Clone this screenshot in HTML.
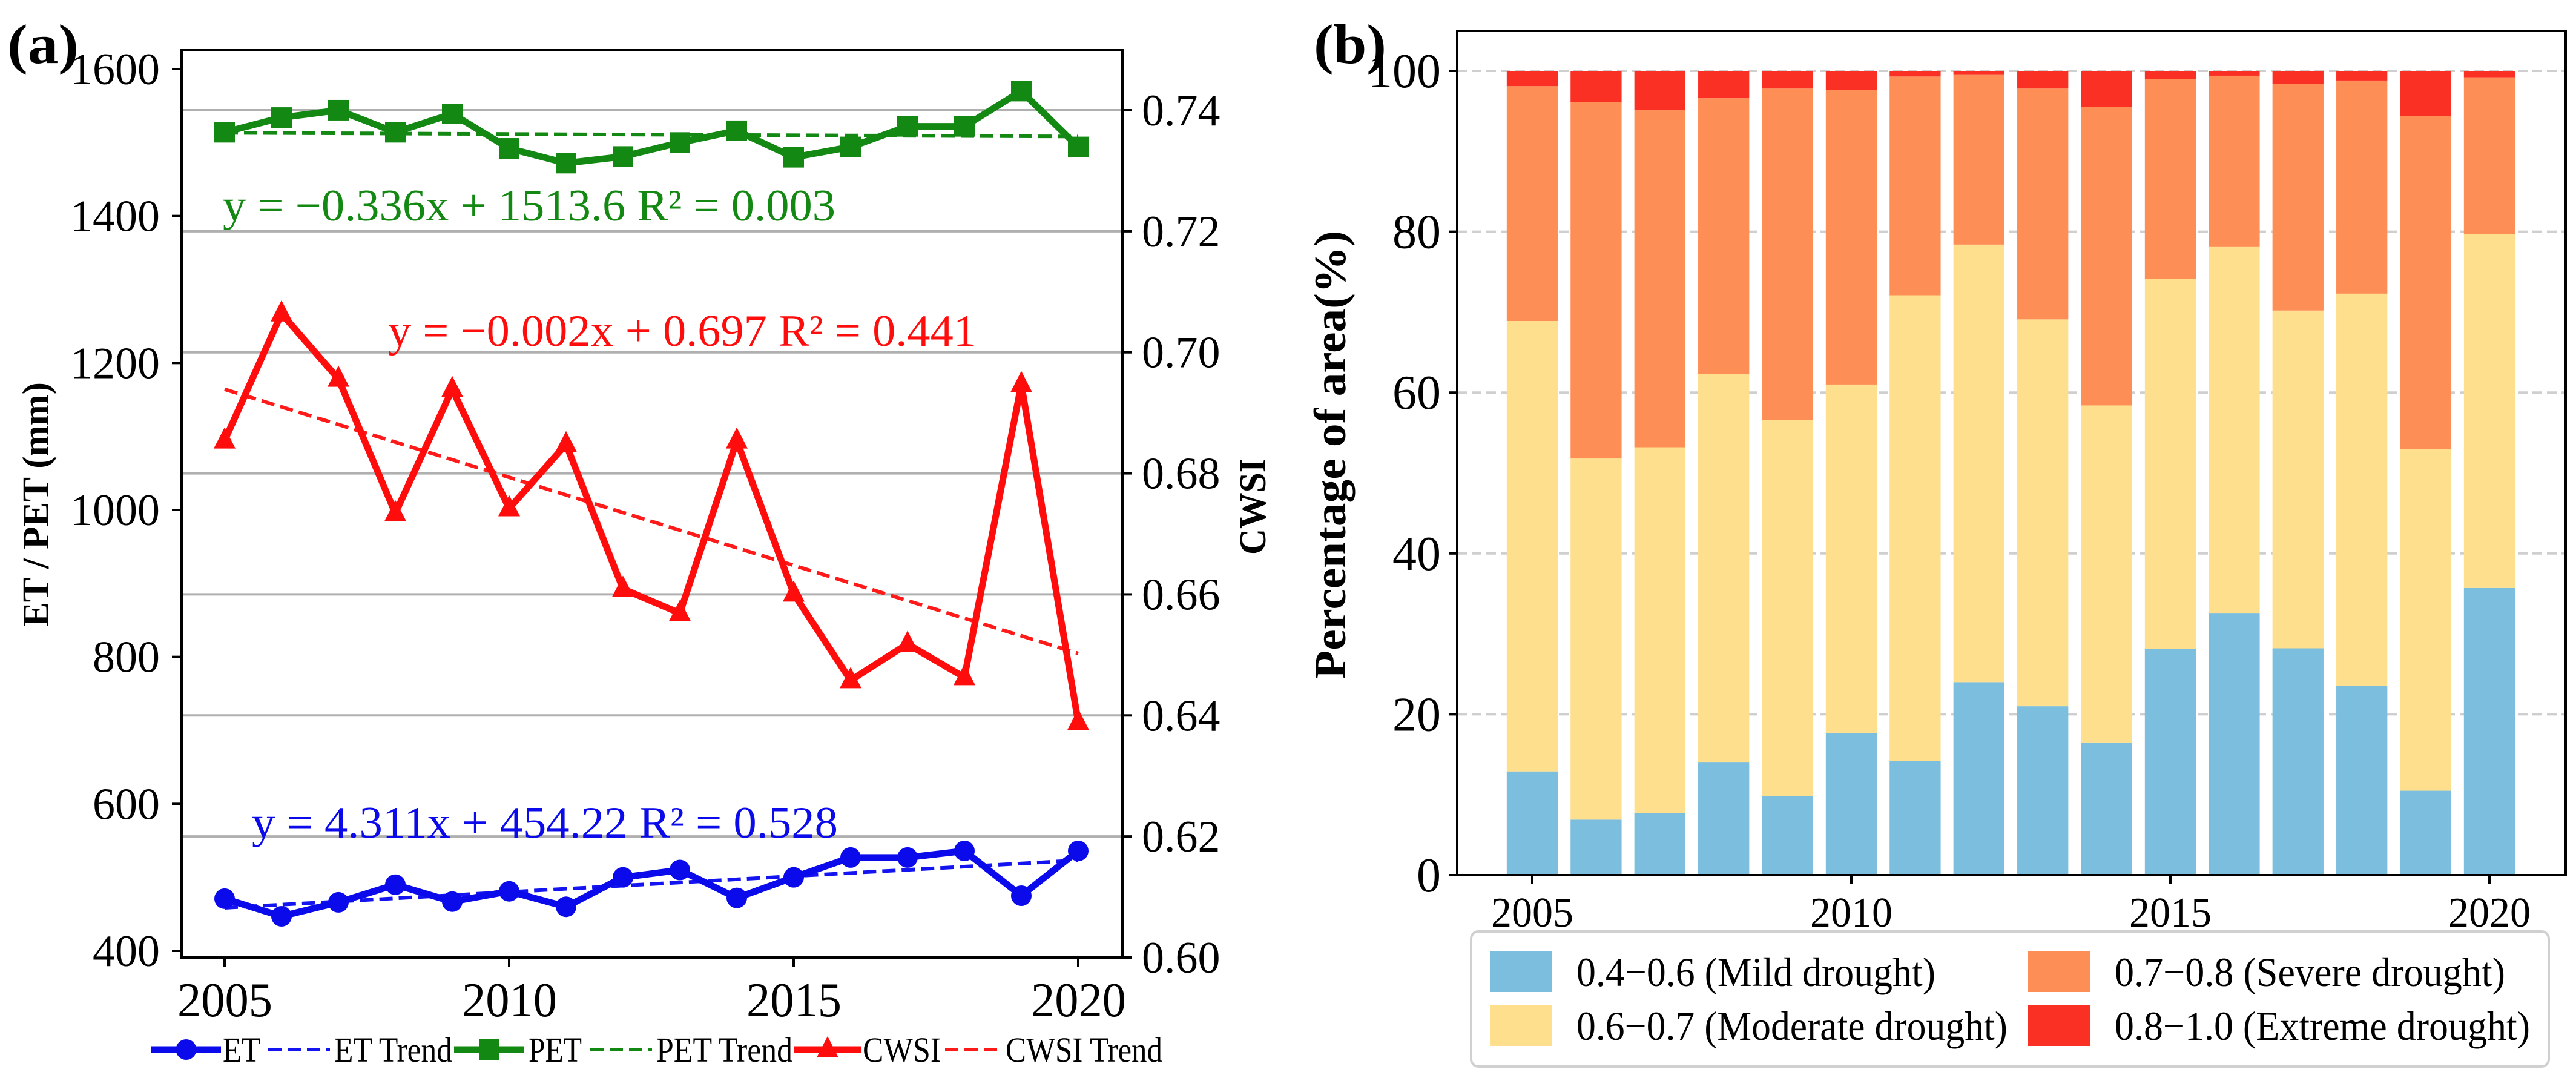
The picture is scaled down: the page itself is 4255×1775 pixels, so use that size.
<!DOCTYPE html>
<html><head><meta charset="utf-8">
<style>
html,body{margin:0;padding:0;background:#fff;}
svg{display:block;font-family:"Liberation Serif",serif;}
</style></head>
<body>
<svg id="fig" width="4255" height="1775" viewBox="0 0 4255 1775" xmlns="http://www.w3.org/2000/svg">
<rect width="4255" height="1775" fill="#fff"/>
<g id="pa"></g>
<g id="pb"></g>
</svg>
<script>
// ---------- Panel (a) data ----------
const years = [2005,2006,2007,2008,2009,2010,2011,2012,2013,2014,2015,2016,2017,2018,2019,2020];
const etValues = [471,447,466,490,467,481,460,500,510,472,500,527,527,536,475,536];
const petValues = [1514,1534,1544,1514,1539,1492,1472,1481,1500,1516,1480,1494,1522,1522,1570,1494];
const cwsiValues = [0.6854,0.7064,0.6956,0.6734,0.6939,0.6742,0.6848,0.6609,0.6569,0.6854,0.6601,0.6458,0.6518,0.6463,0.6947,0.6389];
const etTrend = [4.311,454.22];
const petTrend = [-0.336,1513.6];
const cwsiTrend = [-0.00291,0.6968];
const leftTicks = [400,600,800,1000,1200,1400,1600];
const rightTicks = [0.60,0.62,0.64,0.66,0.68,0.70,0.72,0.74];
const xTicksA = [2005,2010,2015,2020];
// ---------- Panel (b) data ----------
const mildPct = [12.9,6.9,7.7,14.0,9.8,17.7,14.2,24.0,21.0,16.5,28.1,32.6,28.2,23.5,10.5,35.7];
const moderatePct = [56.0,44.9,45.5,48.3,46.8,43.3,57.9,54.4,48.1,41.9,46.0,45.5,42.0,48.8,42.5,44.0];
const severePct = [29.2,44.3,41.9,34.3,41.2,36.6,27.2,21.1,28.7,37.1,24.9,21.3,28.2,26.5,41.4,19.5];
const extremePct = [1.9,3.9,4.9,3.4,2.2,2.4,0.7,0.5,2.2,4.5,1.0,0.6,1.6,1.2,5.6,0.8];
const pctTicks = [0,20,40,60,80,100];
const xTicksB = [2005,2010,2015,2020];

const NS="http://www.w3.org/2000/svg";
function mk(parent,tag,attrs,text){const e=document.createElementNS(NS,tag);for(const k in attrs)e.setAttribute(k,attrs[k]);if(text!==undefined)e.textContent=text;parent.appendChild(e);return e;}
function fit(attrs,len){attrs.textLength=len;attrs.lengthAdjust='spacingAndGlyphs';return attrs;}

// ---------- Panel A ----------
const pa=document.getElementById('pa');
const A={l:300,r:1854,t:83,b:1581};
const xa=y=>371+(y-2005)*(1781-371)/15;
const yl=v=>1570-(v-400)*(1570-114)/1200;
const yr=v=>1581-(v-0.60)*(1581-182)/0.14;
rightTicks.forEach(v=>{ if(v>0.6){
  const g=mk(pa,'line',{x1:A.l,x2:A.r,y1:yr(v),y2:yr(v),stroke:'#b0b0b0','stroke-width':4});
  
  
}});
function line(vals,fy,color,name){
  const pts=vals.map((v,i)=>xa(years[i])+','+fy(v)).join(' ');
  const p=mk(pa,'polyline',{points:pts,fill:'none',stroke:color,'stroke-width':11,'stroke-linejoin':'miter'});
  
  
}
function trend(coef,fy,color,name){
  const v0=coef[0]*1+coef[1], v1=coef[0]*16+coef[1];
  const p=mk(pa,'line',{x1:xa(2005),y1:fy(v0),x2:xa(2020),y2:fy(v1),stroke:color,'stroke-width':6,'stroke-dasharray':'22,10'});
  
  
}
trend(petTrend,yl,'#138813','pet-trend-line');
trend(etTrend,yl,'#1414f0','et-trend-line');
trend(cwsiTrend,yr,'#ff1a1a','cwsi-trend-line');
line(etValues,yl,'#0a0aeb','et-line');
line(petValues,yl,'#138813','pet-line');
line(cwsiValues,yr,'#ff0d0d','cwsi-line');
etValues.forEach((v,i)=>{const c=mk(pa,'circle',{cx:xa(years[i]),cy:yl(v),r:17,fill:'#0a0aeb'});
  
  });
petValues.forEach((v,i)=>{const c=mk(pa,'rect',{x:xa(years[i])-17,y:yl(v)-17,width:34,height:34,fill:'#138813'});
  
  });
cwsiValues.forEach((v,i)=>{const x=xa(years[i]),y=yr(v);const c=mk(pa,'polygon',{points:`${x},${y-22} ${x-18},${y+13} ${x+18},${y+13}`,fill:'#ff0d0d'});
  
  });
const fa=mk(pa,'rect',{x:A.l,y:A.t,width:A.r-A.l,height:A.b-A.t,fill:'none',stroke:'#000','stroke-width':4});


leftTicks.forEach(v=>{mk(pa,'line',{x1:A.l-16,x2:A.l,y1:yl(v),y2:yl(v),stroke:'#000','stroke-width':4});
  const t=mk(pa,'text',{x:264,y:yl(v)+25,'text-anchor':'end','font-size':74},String(v));
  
  });
rightTicks.forEach(v=>{mk(pa,'line',{x1:A.r,x2:A.r+16,y1:yr(v),y2:yr(v),stroke:'#000','stroke-width':4});
  const t=mk(pa,'text',{x:1886,y:yr(v)+25,'font-size':74},v.toFixed(2));
  
  });
xTicksA.forEach(v=>{mk(pa,'line',{x1:xa(v),x2:xa(v),y1:A.b,y2:A.b+16,stroke:'#000','stroke-width':4});
  const t=mk(pa,'text',fit({x:xa(v)-78,y:1678,'font-size':80},157),String(v));
  
  });
let t;
t=mk(pa,'text',fit({x:833-202,y:80,'font-size':64,'font-weight':'bold',transform:'rotate(-90 833 833) translate(0 0)'},404),'ET / PET (mm)');
t.setAttribute('transform','translate(0 0)');
t.remove();
t=mk(pa,'text',fit({x:-1035,y:80,'font-size':62,'font-weight':'bold',transform:'rotate(-90)'},404),'ET / PET (mm)');

t=mk(pa,'text',fit({x:-916,y:2090,'font-size':62,'font-weight':'bold',transform:'rotate(-90)'},159),'CWSI');

t=mk(pa,'text',fit({x:12,y:104,'font-size':92,'font-weight':'bold'},118),'(a)');

t=mk(pa,'text',fit({x:368,y:364,'font-size':74,fill:'#138813'},1012),'y = −0.336x + 1513.6 R² = 0.003');

t=mk(pa,'text',fit({x:641,y:571,'font-size':74,fill:'#ff0d0d'},972),'y = −0.002x + 0.697 R² = 0.441');

t=mk(pa,'text',fit({x:416,y:1383,'font-size':74,fill:'#0a0aeb'},968),'y = 4.311x + 454.22 R² = 0.528');

// legend a
const leg=mk(pa,'g',{});

const items=[['ET','#0a0aeb','solid','circle',250,365,368,430],
             ['ET Trend','#1414f0','dash',null,443,545,552,747],
             ['PET','#138813','solid','square',750,866,873,961],
             ['PET Trend','#138813','dash',null,975,1077,1084,1309],
             ['CWSI','#ff0d0d','solid','tri',1312,1422,1425,1554],
             ['CWSI Trend','#ff1a1a','dash',null,1561,1657,1661,1920]];
items.forEach(it=>{
  const g=mk(leg,'g',{});
  
  
  const x0=it[4], x1=it[5], y=1733;
  mk(g,'line',{x1:x0,x2:x1,y1:y,y2:y,stroke:it[1],'stroke-width':it[2]=='solid'?11:6,'stroke-dasharray':it[2]=='dash'?'22,10':'none'});
  const cx=(x0+x1)/2;
  if(it[3]=='circle')mk(g,'circle',{cx:cx,cy:y,r:17,fill:it[1]});
  if(it[3]=='square')mk(g,'rect',{x:cx-17,y:y-17,width:34,height:34,fill:it[1]});
  if(it[3]=='tri')mk(g,'polygon',{points:`${cx},${y-22} ${cx-18},${y+13} ${cx+18},${y+13}`,fill:it[1]});
  mk(g,'text',fit({x:it[6],y:1753,'font-size':58},it[7]-it[6]),it[0]);
});

// ---------- Panel B ----------
const pb=document.getElementById('pb');
const B={l:2407,r:4238,t:51,b:1445};
const xb=y=>2531+(y-2005)*(4112-2531)/15;
const yb=v=>1445-v*(1445-117)/100;
pctTicks.forEach(v=>{ if(v>0){
  const g=mk(pb,'line',{x1:B.l,x2:B.r,y1:yb(v),y2:yb(v),stroke:'#cfcfcf','stroke-width':4,'stroke-dasharray':'16,8'});
  
  
}});
const series=[[mildPct,'#7bbedd','bar-mild'],[moderatePct,'#fddf8e','bar-moderate'],[severePct,'#fd8e55','bar-severe'],[extremePct,'#fb3025','bar-extreme']];
const bw=(4112-2531)/15*0.8;
years.forEach((yr_,i)=>{
  let base=0;
  series.forEach(s=>{
    const v=s[0][i];
    const r=mk(pb,'rect',{x:xb(yr_)-bw/2,y:yb(base+v),width:bw,height:yb(base)-yb(base+v),fill:s[1]});
    
    
    base+=v;
  });
});
const fb=mk(pb,'rect',{x:B.l,y:B.t,width:B.r-B.l,height:B.b-B.t,fill:'none',stroke:'#000','stroke-width':4});


pctTicks.forEach(v=>{mk(pb,'line',{x1:B.l-14,x2:B.l,y1:yb(v),y2:yb(v),stroke:'#000','stroke-width':4});
  const t=mk(pb,'text',{x:2380,y:yb(v)+27,'text-anchor':'end','font-size':80},String(v));
  
  });
xTicksB.forEach(v=>{mk(pb,'line',{x1:xb(v),x2:xb(v),y1:B.b,y2:B.b+14,stroke:'#000','stroke-width':4});
  const t=mk(pb,'text',fit({x:xb(v)-68,y:1530,'font-size':70},136),String(v));
  
  });
t=mk(pb,'text',fit({x:-1121,y:2222,'font-size':74,'font-weight':'bold',transform:'rotate(-90)'},740),'Percentage of area(%)');

t=mk(pb,'text',fit({x:2170,y:104,'font-size':92,'font-weight':'bold'},120),'(b)');

const lb=mk(pb,'g',{});

mk(lb,'rect',{x:2430,y:1538,width:1780,height:223,rx:12,fill:'#fff',stroke:'#d0d0d0','stroke-width':4});
const lbItems=[['0.4−0.6 (Mild drought)','#7bbedd',2461,1570,593],['0.6−0.7 (Moderate drought)','#fddf8e',2461,1659,712],['0.7−0.8 (Severe drought)','#fd8e55',3350,1570,645],['0.8−1.0 (Extreme drought)','#fb3025',3350,1659,686]];
lbItems.forEach(it=>{
  const g=mk(lb,'g',{});
  
  
  mk(g,'rect',{x:it[2],y:it[3],width:102,height:68,fill:it[1]});
  mk(g,'text',fit({x:it[2]+143,y:it[3]+58,'font-size':68},it[4]),it[0]);
});
</script>
</body></html>
